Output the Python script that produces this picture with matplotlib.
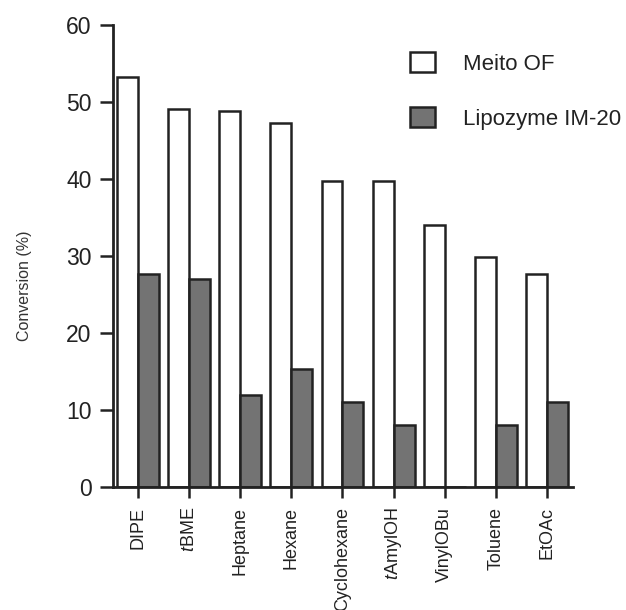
import matplotlib
matplotlib.use("Agg")
import matplotlib.pyplot as plt
import numpy as np

categories = ["DIPE", "$\\it{t}$BME", "Heptane", "Hexane", "Cyclohexane",
              "$\\it{t}$AmylOH", "VinylOBu", "Toluene", "EtOAc"]
meito_of = [53.3, 49.1, 48.8, 47.3, 39.8, 39.8, 34.0, 29.9, 27.7]
lipozyme = [27.6, 27.0, 12.0, 15.3, 11.1, 8.1, 0.0, 8.1, 11.0]
yticks = [0, 10, 20, 30, 40, 50, 60]

plt.rcParams['font.family'] = ['Liberation Sans', 'DejaVu Sans']
plt.rcParams['mathtext.fontset'] = 'custom'
plt.rcParams['mathtext.it'] = 'Liberation Sans:italic'
plt.rcParams['mathtext.rm'] = 'Liberation Sans'

fig = plt.figure(figsize=(6.26, 6.10), dpi=100)
ax = fig.add_axes([0.1805, 0.2016, 0.7348, 0.7574])

x = np.arange(len(categories))
w = 0.41
ax.bar(x - w / 2, meito_of, width=w, facecolor='white', edgecolor='#222222',
       linewidth=1.8, label='Meito OF')
ax.bar(x + w / 2, lipozyme, width=w, facecolor='#737373', edgecolor='#222222',
       linewidth=1.8, label='Lipozyme IM-20')

ax.set_xlim(-0.49, 8.51)
ax.set_ylim(0, 60)
ax.set_yticks(yticks)
ax.set_xticks(x)
ax.set_xticklabels(categories, rotation=90, fontsize=13)
ax.tick_params(axis='y', labelsize=16.5, length=9.5, width=1.8, direction='out',
               pad=6, colors='#222222')
ax.tick_params(axis='x', length=8, width=1.8, direction='out', pad=6.5,
               colors='#222222')
for s in ['top', 'right']:
    ax.spines[s].set_visible(False)
for s in ['left', 'bottom']:
    ax.spines[s].set_linewidth(2.0)
    ax.spines[s].set_color('#222222')

ax.set_ylabel('Conversion (%)', fontsize=11.5, color='#333333')
ax.yaxis.set_label_coords(-0.176, 0.435)

leg = ax.legend(loc='upper left', bbox_to_anchor=(0.646, 0.942), frameon=False,
                fontsize=16, handlelength=1.13, handleheight=1.04,
                handletextpad=1.26, labelspacing=1.45, borderpad=0,
                borderaxespad=0)
for t in leg.get_texts():
    t.set_color('#222222')

fig.savefig('out.png', dpi=100)
